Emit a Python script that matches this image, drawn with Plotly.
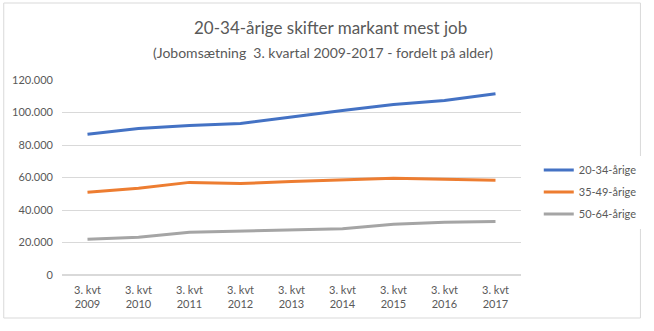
import plotly.graph_objects as go

categories = ["3. kvt<br>2009", "3. kvt<br>2010", "3. kvt<br>2011", "3. kvt<br>2012", "3. kvt<br>2013",
              "3. kvt<br>2014", "3. kvt<br>2015", "3. kvt<br>2016", "3. kvt<br>2017"]
s20_34 = [86600, 90200, 92000, 93200, 97200, 101300, 104900, 107400, 111600]
s35_49 = [50900, 53400, 57000, 56300, 57500, 58700, 59500, 59000, 58300]
s50_64 = [22000, 23200, 26300, 26900, 27900, 28500, 31200, 32400, 33000]
names = ["20-34-årige", "35-49-årige", "50-64-årige"]
colors = ["#4472C4", "#ED7D31", "#A5A5A5"]

W, H = 654, 331
L, R, T, B = 62, 127, 80, 56
pw, ph = W - L - R, H - T - B

fig = go.Figure()
for vals, nm, col in zip([s20_34, s35_49, s50_64], names, colors):
    fig.add_trace(go.Scatter(x=categories, y=vals, name=nm, mode="lines", legendgroup=nm,
                             line=dict(color=col, width=3)))

font = "Lato, 'Open Sans', sans-serif"
fig.update_layout(
    width=W, height=H, margin=dict(l=L, r=R, t=T, b=B),
    paper_bgcolor="white", plot_bgcolor="white",
    separators=",.",
    font=dict(family=font, color="#595959", size=11),
    xaxis=dict(type="category", showgrid=False, zeroline=False, showline=False,
               ticks="", tickfont=dict(size=11, color="#595959"), range=[-0.5, 8.5],
               ticklabelstandoff=7),
    yaxis=dict(range=[0, 120000], tickvals=[0, 20000, 40000, 60000, 80000, 100000, 120000],
               tickformat=",d", showgrid=True, gridcolor="#D9D9D9", gridwidth=1,
               zeroline=True, zerolinecolor="#D9D9D9", showline=False, ticks="",
               tickfont=dict(size=11, color="#595959"), ticklabelstandoff=8),
    legend=dict(x=(545 - L) / pw, y=(275 - 192) / ph, xanchor="left", yanchor="middle",
                font=dict(size=11, color="#595959"), tracegroupgap=3, itemwidth=30),
    showlegend=True,
)

def px(x):
    return (x - L) / pw
def py(y):
    return (H - B - y) / ph
fig.add_shape(type="rect", xref="paper", yref="paper", x0=px(3), x1=px(648), y0=py(318), y1=py(3),
              line=dict(color="#D9D9D9", width=1), layer="below")

fig.add_annotation(text="20-34-årige skifter markant mest job", xref="paper", yref="paper",
                   x=px(334), y=py(27), xanchor="center", yanchor="middle", showarrow=False,
                   font=dict(size=17, color="#595959", family=font))
fig.add_annotation(text="(Jobomsætning  3. kvartal 2009-2017 - fordelt på alder)", xref="paper", yref="paper",
                   x=px(326), y=py(52), xanchor="center", yanchor="middle", showarrow=False,
                   font=dict(size=14, color="#595959", family=font))

fig.write_html("out.html")
